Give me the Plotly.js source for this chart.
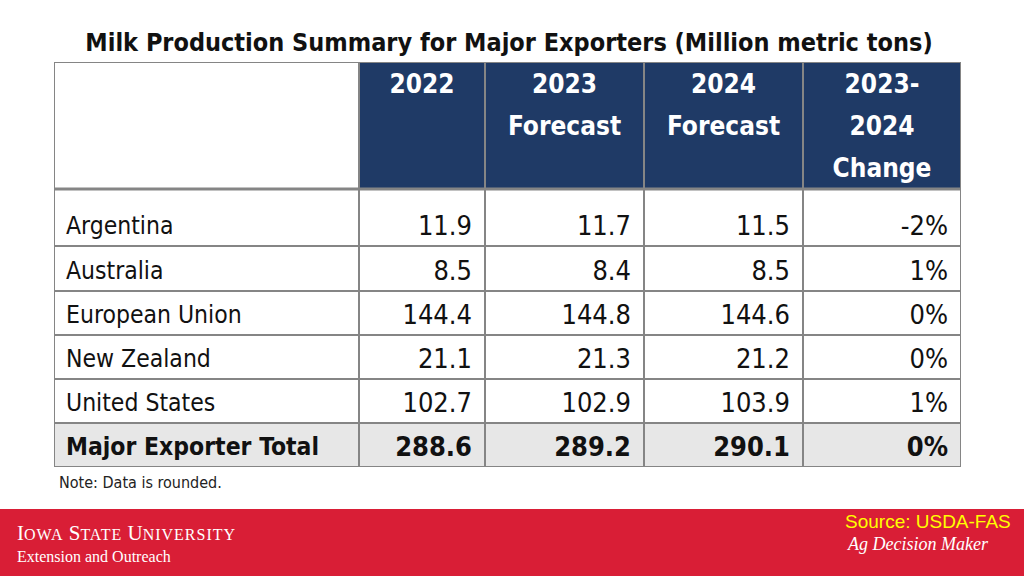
<!DOCTYPE html>
<html>
<head>
<meta charset="utf-8">
<script src="https://cdn.plot.ly/plotly-3.0.1.min.js"></script>
<style>
html,body{margin:0;padding:0;background:#fff;}
#chart{width:1024px;height:576px;}
</style>
</head>
<body>
<div id="chart"></div>
<script>
// ---- data ----
const headerLines = [[], ["2022"], ["2023", "Forecast"], ["2024", "Forecast"], ["2023-", "2024", "Change"]];
const regions = ["Argentina", "Australia", "European Union", "New Zealand", "United States", "Major Exporter Total"];
const prod2022 = [11.9, 8.5, 144.4, 21.1, 102.7, 288.6];
const prod2023 = [11.7, 8.4, 144.8, 21.3, 102.9, 289.2];
const prod2024 = [11.5, 8.5, 144.6, 21.2, 103.9, 290.1];
const change2324 = ["-2%", "1%", "0%", "0%", "1%", "0%"];

// ---- layout / style ----
const FONT = '"DejaVu Sans Condensed", "Noto Sans", sans-serif';
const SERIF = '"Liberation Serif", "DejaVu Serif", serif';
const NAVY = '#1f3a66';
const GRID = '#858585';
const TOTAL_FILL = '#e7e7e7';
const colWidths = [305, 126, 159, 159, 158];
const rowHeights = [127, 57, 45, 44, 44, 44, 44];
const cum = a => a.reduce((acc, v) => (acc.push(acc[acc.length - 1] + v), acc), [0]);
const colEdges = cum(colWidths);
const rowEdges = cum(rowHeights);
const W = colEdges[colEdges.length - 1], H = rowEdges[rowEdges.length - 1];
const M = {l: 54, r: 1024 - 54 - W, t: 62, b: 576 - 62 - H};
// page pixel -> paper coords
const px = x => (x - M.l) / W;
const py = y => (M.t + H - y) / H;

const last = regions.length - 1;
const bodyCols = [regions, prod2022, prod2023, prod2024, change2324];
const traces = [];

// body cells
bodyCols.forEach((col, c) => {
  const isLabel = c === 0;
  traces.push({
    type: 'scatter', mode: 'text', cliponaxis: false, hoverinfo: 'skip', showlegend: false,
    x: col.map(() => isLabel ? colEdges[0] + 12 : colEdges[c + 1] - 13),
    y: col.map((v, r) => rowEdges[r + 2] - 18),
    text: col.map((v, r) => {
      const s = (typeof v === 'number') ? v.toFixed(1) : v;
      return r === last ? '<b>' + s + '</b>' : s;
    }),
    textposition: isLabel ? 'middle right' : 'middle left',
    textfont: {family: FONT, size: isLabel ? 24.5 : 27, color: '#111111'}
  });
});

// header cells
headerLines.forEach((lines, c) => {
  if (!lines.length) return;
  traces.push({
    type: 'scatter', mode: 'text', cliponaxis: false, hoverinfo: 'skip', showlegend: false,
    x: lines.map(() => (colEdges[c] + colEdges[c + 1]) / 2),
    y: lines.map((l, i) => 24 + 42 * i),
    text: lines.map(l => '<b>' + l + '</b>'),
    textposition: 'middle center',
    textfont: {family: FONT, size: 26, color: '#ffffff'}
  });
});

// shapes: fills then grid
const shapes = [];
shapes.push({type: 'rect', xref: 'paper', yref: 'paper', x0: px(0), x1: px(1024), y0: py(576), y1: py(509),
  fillcolor: '#d91e36', line: {width: 0}, layer: 'below'});
for (let c = 1; c < colWidths.length; c++) {
  shapes.push({type: 'rect', xref: 'x', yref: 'y', x0: colEdges[c], x1: colEdges[c + 1], y0: rowEdges[0], y1: rowEdges[1],
    fillcolor: NAVY, line: {width: 0}, layer: 'below'});
}
shapes.push({type: 'rect', xref: 'x', yref: 'y', x0: 0, x1: W, y0: rowEdges[rowEdges.length - 2], y1: H,
  fillcolor: TOTAL_FILL, line: {width: 0}, layer: 'below'});
colEdges.forEach(x => shapes.push({type: 'line', xref: 'x', yref: 'y', x0: x, x1: x, y0: 0, y1: H,
  line: {color: GRID, width: 2}, layer: 'below'}));
rowEdges.forEach((y, i) => shapes.push({type: 'line', xref: 'x', yref: 'y', x0: 0, x1: W, y0: y, y1: y,
  line: {color: GRID, width: i === 1 ? 3 : 2}, layer: 'below'}));

const SC = 'font-size:16px;letter-spacing:1px';
const layout = {
  width: 1024, height: 576,
  margin: M,
  paper_bgcolor: '#ffffff', plot_bgcolor: '#ffffff',
  xaxis: {range: [0, W], visible: false, fixedrange: true},
  yaxis: {range: [H, 0], visible: false, fixedrange: true},
  title: {
    text: '<b>Milk Production Summary for Major Exporters (Million metric tons)</b>',
    x: 509 / 1024, xanchor: 'center', y: 1 - 42 / 576, yanchor: 'middle',
    font: {family: FONT, size: 25, color: '#111111'}
  },
  shapes: shapes,
  annotations: [
    {text: 'Note: Data is rounded.', xref: 'paper', yref: 'paper', x: px(57), y: py(482),
     xanchor: 'left', yanchor: 'middle', showarrow: false,
     font: {family: FONT, size: 16, color: '#222222'}},
    {text: 'I<span style="' + SC + '">OWA</span> S<span style="' + SC + '">TATE</span> U<span style="' + SC + '">NIVERSITY</span>',
     xref: 'paper', yref: 'paper', x: px(16), y: py(533),
     xanchor: 'left', yanchor: 'middle', showarrow: false, borderpad: 0,
     font: {family: SERIF, size: 21, color: '#ffffff'}},
    {text: 'Extension and Outreach', xref: 'paper', yref: 'paper', x: px(16), y: py(556),
     xanchor: 'left', yanchor: 'middle', showarrow: false, borderpad: 0,
     font: {family: SERIF, size: 16, color: '#ffffff'}},
    {text: 'Source: USDA-FAS', xref: 'paper', yref: 'paper', x: px(1013), y: py(521),
     xanchor: 'right', yanchor: 'middle', showarrow: false,
     font: {family: '"Liberation Sans", Arial, sans-serif', size: 19, color: '#ffff00'}},
    {text: '<i>Ag Decision Maker</i>', xref: 'paper', yref: 'paper', x: px(991), y: py(544),
     xanchor: 'right', yanchor: 'middle', showarrow: false,
     font: {family: SERIF, size: 18, color: '#ffffff'}}
  ]
};

Plotly.newPlot('chart', traces, layout, {displayModeBar: false, staticPlot: true});
</script>
</body>
</html>
